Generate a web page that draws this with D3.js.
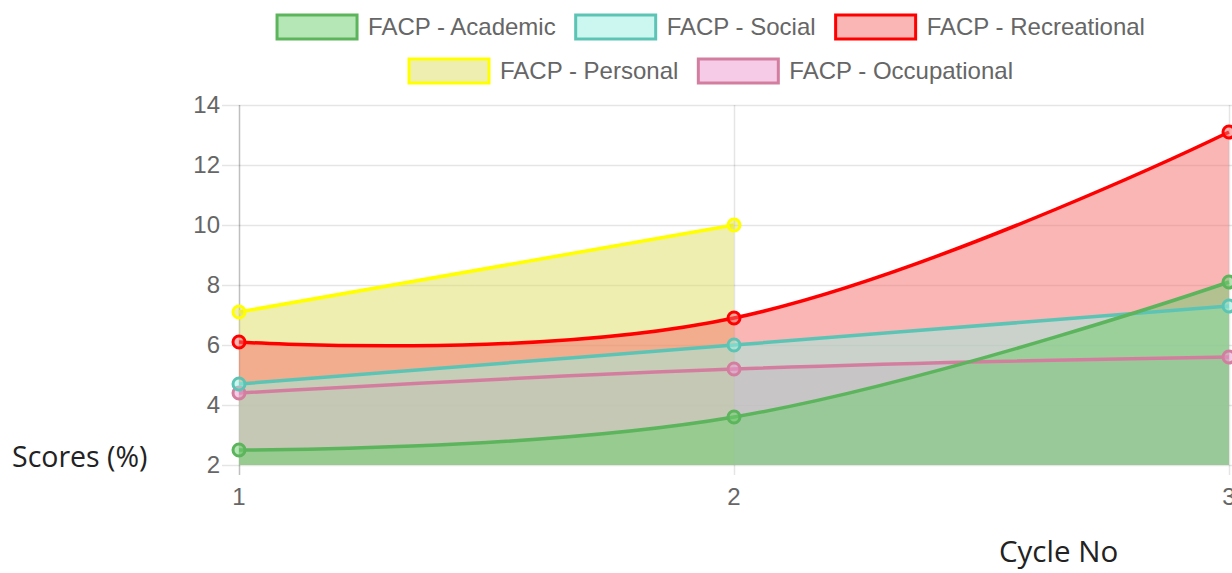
<!DOCTYPE html>
<html>
<head>
<meta charset="utf-8">
<script src="https://cdn.jsdelivr.net/npm/d3@7"></script>
<style>
  html, body { margin: 0; padding: 0; background: #fff; overflow: hidden; }
  svg { display: block; }
</style>
</head>
<body>
<div id="chart"></div>
<script>
// cycle numbers on the x axis
const cycles = [1, 2, 3]
const yTicks = [2, 4, 6, 8, 10, 12, 14]

// one array per series, null = no value for that cycle
const academic = [2.5, 3.6, 8.1]
const social = [4.7, 6.0, 7.3]
const recreational = [6.1, 6.9, 13.1]
const personal = [7.1, 10.0, null]
const occupational = [4.4, 5.2, 5.6]

const seriesNames = ["FACP - Academic", "FACP - Social", "FACP - Recreational", "FACP - Personal", "FACP - Occupational"]
const seriesValues = [academic, social, recreational, personal, occupational]
const strokeColors = ["#5cb45c", "#5cc4b4", "#ff0000", "#ffff00", "#d47e9f"]
const fillColors = ["rgba(107,205,107,0.5)", "rgba(153,239,225,0.5)", "rgba(245,107,107,0.5)",
                    "rgba(221,221,97,0.5)", "rgba(235,151,209,0.5)"]

const width = 1232, height = 573
const plot = {left: 239, right: 1229, top: 105, bottom: 465}

const svg = d3.select("#chart")
    .append("svg")
    .attr("width", width)
    .attr("height", height)

const x = d3.scaleLinear().domain([1, 3]).range([plot.left, plot.right])
const y = d3.scaleLinear().domain([2, 14]).range([plot.bottom, plot.top])

const tickFont = "'Liberation Sans', Arial, Helvetica, sans-serif"

// horizontal grid lines (with tick marks sticking out on the left)
svg.append("g")
    .selectAll("line")
    .data(yTicks)
    .enter()
    .append("line")
    .attr("x1", plot.left - 17)
    .attr("x2", width)
    .attr("y1", d => y(d) + 0.5)
    .attr("y2", d => y(d) + 0.5)
    .style("stroke", "rgba(0,0,0,0.1)")
    .style("stroke-width", 1.5)

// vertical grid lines
svg.append("g")
    .selectAll("line")
    .data(cycles)
    .enter()
    .append("line")
    .attr("x1", d => x(d) + 0.5)
    .attr("x2", d => x(d) + 0.5)
    .attr("y1", plot.top)
    .attr("y2", plot.bottom + 10)
    .style("stroke", (d, i) => i === 0 ? "rgba(0,0,0,0.25)" : "rgba(0,0,0,0.1)")
    .style("stroke-width", 1.5)

// y tick labels
svg.append("g")
    .selectAll("text")
    .data(yTicks)
    .enter()
    .append("text")
    .attr("x", plot.left - 19)
    .attr("y", d => y(d))
    .attr("dy", "0.35em")
    .attr("text-anchor", "end")
    .style("font-family", tickFont)
    .style("font-size", "24px")
    .style("fill", "#666")
    .text(d => d)

// x tick labels
svg.append("g")
    .selectAll("text")
    .data(cycles)
    .enter()
    .append("text")
    .attr("x", d => x(d))
    .attr("y", plot.bottom + 32)
    .attr("dy", "0.35em")
    .attr("text-anchor", "middle")
    .style("font-family", tickFont)
    .style("font-size", "24px")
    .style("fill", "#666")
    .text(d => d)

// Chart.js style bezier (tension 0.4) ~ cardinal with k = 0.2
const curve = d3.curveCardinal.tension(-0.2)

const points = seriesValues.map(vals =>
    cycles.map((c, i) => ({c: c, v: vals[i]})).filter(p => p.v !== null))

const area = d3.area()
    .x(p => x(p.c))
    .y0(y(2))
    .y1(p => y(p.v))
    .curve(curve)

const line = d3.line()
    .x(p => x(p.c))
    .y(p => y(p.v))
    .curve(curve)

// fills first, last series at the bottom
const order = d3.range(seriesNames.length).reverse()
svg.append("g")
    .selectAll("path")
    .data(order)
    .enter()
    .append("path")
    .attr("d", i => area(points[i]))
    .style("fill", i => fillColors[i])

// lines and points, first series on top
order.forEach(i => {
    const g = svg.append("g")
    g.append("path")
        .attr("d", line(points[i]))
        .style("fill", "none")
        .style("stroke", strokeColors[i])
        .style("stroke-width", 3.5)
    g.selectAll("circle")
        .data(points[i])
        .enter()
        .append("circle")
        .attr("cx", p => x(p.c))
        .attr("cy", p => y(p.v))
        .attr("r", 6)
        .style("fill", fillColors[i])
        .style("stroke", strokeColors[i])
        .style("stroke-width", 3)
})

// legend, two centred rows
const legendRows = [[0, 1, 2], [3, 4]]
const rowY = [27, 71]
const legendCenter = 711
const boxW = 80, boxH = 24, boxGap = 11, itemGap = 20

legendRows.forEach((row, r) => {
    const g = svg.append("g")
    const items = row.map(i => {
        const item = g.append("g")
        item.append("rect")
            .attr("x", 0)
            .attr("y", rowY[r] - boxH / 2)
            .attr("width", boxW)
            .attr("height", boxH)
            .style("fill", fillColors[i])
            .style("stroke", strokeColors[i])
            .style("stroke-width", 3)
        const t = item.append("text")
            .attr("x", boxW + boxGap)
            .attr("y", rowY[r])
            .attr("dy", "0.35em")
            .style("font-family", tickFont)
            .style("font-size", "24px")
            .style("fill", "#666")
            .text(seriesNames[i])
        return {item: item, w: boxW + boxGap + t.node().getComputedTextLength()}
    })
    const total = d3.sum(items, d => d.w) + itemGap * (items.length - 1)
    let cx = legendCenter - total / 2
    items.forEach(d => {
        d.item.attr("transform", "translate(" + cx + ",0)")
        cx += d.w + itemGap
    })
})

// axis titles
const titleFont = "'Open Sans', 'Noto Sans', sans-serif"
svg.append("text")
    .attr("x", 12)
    .attr("y", 467)
    .style("font-family", titleFont)
    .style("font-size", "28.5px")
    .style("fill", "#222")
    .text("Scores (%)")

svg.append("text")
    .attr("x", 999)
    .attr("y", 562)
    .style("font-family", titleFont)
    .style("font-size", "29.5px")
    .style("fill", "#222")
    .text("Cycle No")
</script>
</body>
</html>
